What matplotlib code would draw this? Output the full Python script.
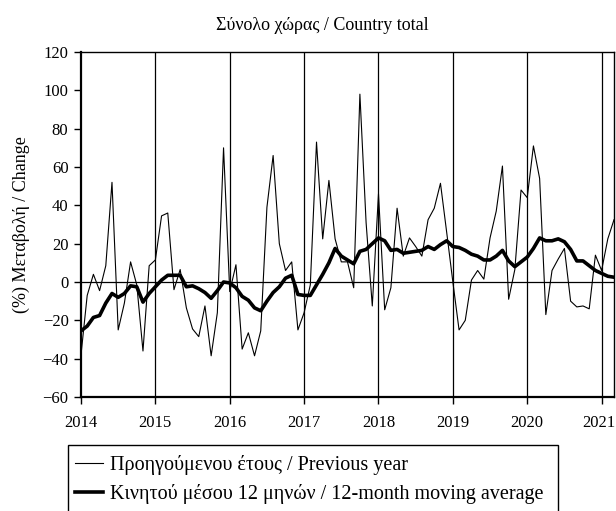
import matplotlib
matplotlib.use("Agg")
import matplotlib.pyplot as plt
from matplotlib.patches import Rectangle
from matplotlib.transforms import ScaledTranslation

plt.rcParams['font.family'] = ['Liberation Serif', 'DejaVu Serif']

# monthly data, Jan 2014 .. Mar 2021
years = ['2014', '2015', '2016', '2017', '2018', '2019', '2020', '2021']
prev_year = [-38, -7, 4, -4.5, 8.5, 52, -25, -11, 10.5, -1.5, -36, 8.5,
             11.5, 34.5, 36, -4, 6.5, -13.5, -24.5, -28.5, -12.5, -38.5, -16, 70,
             -5, 9, -35, -26.5, -38.5, -25.5, 39, 66, 20, 6, 10.5, -25,
             -16, -1.5, 73, 22.5, 53, 22.5, 10.5, 10.5, -3, 98, 31, -12.5,
             46, -14.5, -3, 38.5, 13.5, 23, 18.5, 13.5, 32.5, 38.5, 51.5, 26,
             0, -25, -20, 1, 6, 1.5, 23, 37, 60.5, -9, 6.5, 48,
             44, 71, 54, -17, 6, 12, 17.5, -10, -13, -12.5, -14, 14,
             6, 22.5, 32.5]
moving_avg = [-25.5, -23, -18.5, -17.5, -11, -6, -8, -6, -2, -2.5, -10.5, -6,
              -2.5, 1, 3.5, 3.5, 3.5, -2.5, -2, -3.5, -5.5, -8.5, -4.5, 0,
              -0.5, -3, -7.5, -9.5, -13.5, -15, -10, -5.5, -2.5, 2, 3.5, -6.5,
              -7, -7, -1.5, 4, 10, 17.5, 13.5, 11.5, 9.5, 16, 17, 20,
              23, 21.5, 16.5, 17, 15, 15.5, 16, 16.5, 18.5, 17, 19.5, 21.5,
              18.5, 18, 16.5, 14.5, 13.5, 11.5, 11.5, 13.5, 16.5, 11, 8, 10.5,
              13, 17.5, 23, 21.5, 21.5, 22.5, 21, 17, 11, 11, 8.5, 6,
              4.5, 3, 2.5]
months = list(range(len(prev_year)))

fig = plt.figure(figsize=(6.16, 5.11), dpi=100)
ax = fig.add_axes([81/616, 1-397/511, 533/616, 345/511])

for i in range(1, len(years)):
    ax.axvline(12*i, color='black', lw=0.9, zorder=1)
ax.axhline(0, color='black', lw=0.9, zorder=1)

l1, = ax.plot(months, prev_year, color='black', lw=0.8, zorder=3)
l2, = ax.plot(months, moving_avg, color='black', lw=2.6, zorder=4)

ax.set_xlim(0, len(prev_year)-1)
ax.set_ylim(-60, 120)
ax.set_yticks(range(-60, 121, 20))
ax.set_xticks([12*i for i in range(len(years))])
ax.set_xticklabels(years)
ax.tick_params(axis='both', direction='out', length=5, width=1, labelsize=12, color='black')
ax.tick_params(axis='x', pad=8)
ax.tick_params(axis='y', pad=4)
for side in ['left', 'bottom']:
    ax.spines[side].set_linewidth(1.6)
for side in ['top', 'right']:
    ax.spines[side].set_linewidth(1.0)

# keep the last year label inside the canvas
last = ax.get_xticklabels()[-1]
last.set_transform(last.get_transform() + ScaledTranslation(-0.03, 0, fig.dpi_scale_trans))

ax.set_ylabel('(%) Μεταβολή / Change', fontsize=13, labelpad=9)
fig.text(322/616, 1-25/511, 'Σύνολο χώρας / Country total', ha='center', va='center', fontsize=13)

fig.patches.append(Rectangle((68/616, -0.05), 490/616, 1.05-445/511, transform=fig.transFigure,
                             fill=False, edgecolor='black', lw=1.0))
fig.legend([l1, l2], ['Προηγούμενου έτους / Previous year',
                      'Κινητού μέσου 12 μηνών / 12-month moving average'],
           loc='upper left', bbox_to_anchor=(75/616, 1-455/511), frameon=False,
           borderpad=0, borderaxespad=0, fontsize=14.5, handlelength=1.4,
           handletextpad=0.35, labelspacing=0.45)

fig.savefig('out.png', dpi=100)
